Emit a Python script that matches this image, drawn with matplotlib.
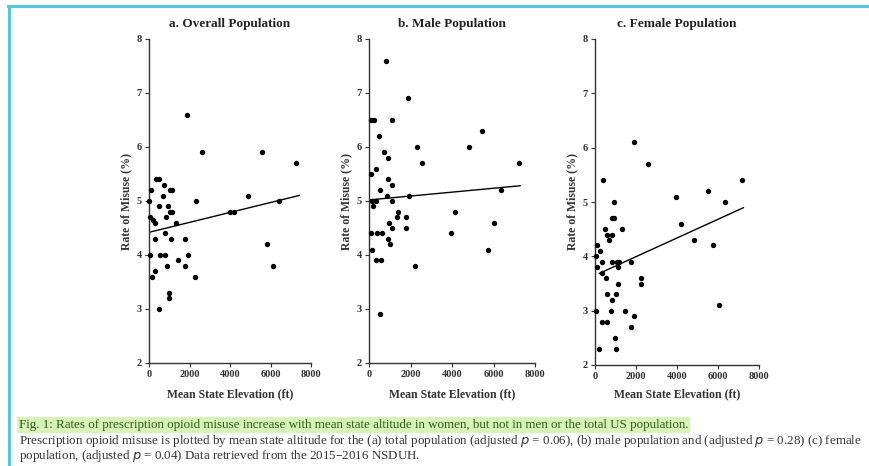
import matplotlib
matplotlib.use("Agg")
import matplotlib.pyplot as plt
from matplotlib.lines import Line2D
import numpy as np

# ---------------- data ----------------
titles = ["a. Overall Population", "b. Male Population", "c. Female Population"]
x_ticks = [0, 2000, 4000, 6000, 8000]
y_ticks = [2, 3, 4, 5, 6, 7, 8]

overall_elev = [1884, 2595, 5570, 7270, 364, 500, 115, 744, 690, 1025, 1157, 0, 2300, 4875,
                6430, 500, 942, 1025, 1157, 860, 30, 200, 280, 1355, 4000, 4215, 777, 280,
                1107, 1770, 5818, 30, 530, 777, 1934, 1438, 909, 1770, 6100, 280, 150, 2265,
                975, 990, 500]
overall_rate = [6.6, 5.9, 5.9, 5.7, 5.4, 5.4, 5.2, 5.3, 5.1, 5.2, 5.2, 5.0, 5.0, 5.1,
                5.0, 4.9, 4.9, 4.8, 4.8, 4.7, 4.7, 4.65, 4.6, 4.6, 4.8, 4.8, 4.4, 4.3,
                4.3, 4.3, 4.2, 4.0, 4.0, 4.0, 4.0, 3.9, 3.8, 3.8, 3.8, 3.7, 3.6, 3.6,
                3.3, 3.2, 3.0]

male_elev = [819, 1896, 96, 257, 1124, 5462, 498, 2297, 4819, 739, 900, 337, 2570, 7213,
             80, 900, 1124, 530, 6361, 851, 1928, 128, 337, 1124, 209, 1414, 4145, 1333,
             1783, 980, 6024, 1092, 1783, 80, 370, 610, 3936, 932, 1012, 128, 5719, 337,
             562, 2217, 530]
male_rate = [7.6, 6.9, 6.5, 6.5, 6.5, 6.3, 6.2, 6.0, 6.0, 5.9, 5.8, 5.6, 5.7, 5.7,
             5.5, 5.4, 5.3, 5.2, 5.2, 5.1, 5.1, 5.0, 5.0, 5.0, 4.9, 4.8, 4.8, 4.7,
             4.7, 4.6, 4.6, 4.5, 4.5, 4.4, 4.4, 4.4, 4.4, 4.3, 4.2, 4.1, 4.1, 3.9,
             3.9, 3.8, 2.9]

female_elev = [1902, 2569, 374, 7154, 5496, 3951, 943, 6341, 813, 926, 4179, 488, 1333, 569,
               846, 699, 4846, 114, 244, 5740, 33, 325, 813, 1057, 1187, 1756, 114, 1138,
               325, 537, 2244, 2228, 1138, 569, 1024, 846, 33, 780, 1463, 1902, 6049, 325,
               569, 1740, 976, 195, 1024]
female_rate = [6.1, 5.7, 5.4, 5.4, 5.2, 5.1, 5.0, 5.0, 4.7, 4.7, 4.6, 4.5, 4.5, 4.4,
               4.4, 4.3, 4.3, 4.2, 4.1, 4.2, 4.0, 3.9, 3.9, 3.9, 3.9, 3.9, 3.8, 3.8,
               3.7, 3.6, 3.6, 3.5, 3.5, 3.3, 3.3, 3.2, 3.0, 3.0, 3.0, 2.9, 3.1, 2.8,
               2.8, 2.7, 2.5, 2.3, 2.3]

# regression lines: (intercept %, slope %/ft, x start, x end)
fit_intercept = [4.42, 5.02, 3.65]
fit_slope = [9.2e-5, 3.6e-5, 1.72e-4]
fit_xrange = [(0, 7420), (0, 7280), (210, 7240)]

caption_title = ("Fig. 1: Rates of prescription opioid misuse increase with mean state altitude "
                 "in women, but not in men or the total US population.")
caption_line2 = ("Prescription opioid misuse is plotted by mean state altitude for the (a) total "
                 "population (adjusted $p$ = 0.06), (b) male population and (adjusted $p$ = 0.28) "
                 "(c) female")
caption_line3 = "population, (adjusted $p$ = 0.04) Data retrieved from the 2015\u20132016 NSDUH."

# ---------------- figure ----------------
W, H = 869, 466
fig = plt.figure(figsize=(W / 100, H / 100), dpi=100)
fig.patch.set_facecolor("white")

serif = ["Liberation Serif", "DejaVu Serif"]

# axes rectangles in pixels: left, right, top, bottom
rects = [(149, 311, 39, 363), (369, 535, 39, 363), (595, 759, 39, 365)]
xs = [overall_elev, male_elev, female_elev]
ys = [overall_rate, male_rate, female_rate]

for i in range(3):
    l, r, t, b = rects[i]
    ax = fig.add_axes([l / W, 1 - b / H, (r - l) / W, (b - t) / H])
    ax.scatter(xs[i], ys[i], s=15, color="black", clip_on=False, zorder=3, linewidths=0)
    x0, x1 = fit_xrange[i]
    xx = np.array([x0, x1])
    ax.plot(xx, fit_intercept[i] + fit_slope[i] * xx, color="black", lw=1.0, zorder=2)
    ax.set_xlim(0, 8000)
    ax.set_ylim(2, 8)
    ax.set_xticks(x_ticks)
    ax.set_yticks(y_ticks)
    ax.spines["top"].set_visible(False)
    ax.spines["right"].set_visible(False)
    for s in ("left", "bottom"):
        ax.spines[s].set_linewidth(1.0)
        ax.spines[s].set_color("#333333")
    ax.tick_params(axis="both", length=3, width=0.8, colors="#333333", pad=2)
    for lab in ax.get_xticklabels() + ax.get_yticklabels():
        lab.set_fontfamily(serif)
        lab.set_fontweight("bold")
        lab.set_fontsize(7.5)
        lab.set_color("#333333")
    ax.set_title(titles[i], fontfamily=serif, fontweight="bold", fontsize=9.5, pad=9, color="#222222")
    ax.set_xlabel("Mean State Elevation (ft)", fontfamily=serif, fontweight="bold", fontsize=8.5,
                  labelpad=7 if i < 2 else 5.5, color="#333333")
    ax.set_ylabel("Rate of Misuse (%)", fontfamily=serif, fontweight="bold", fontsize=8.5,
                  labelpad=3, color="#333333")
    ax.patch.set_alpha(0)

# cyan frame (top and left)
fig.add_artist(Line2D([9 / W, 9 / W], [0, 1 - 6 / H], color="#56c6e2", lw=2.2, transform=fig.transFigure))
fig.add_artist(Line2D([8 / W, 1], [1 - 6 / H, 1 - 6 / H], color="#56c6e2", lw=2.2, transform=fig.transFigure))

# caption
cap_size = 9.4
fig.text(19 / W, 1 - 425 / H, caption_title, fontfamily=serif, fontsize=cap_size, color="#2f5a12",
         va="center", ha="left",
         bbox=dict(boxstyle="square,pad=0.12", facecolor="#d6f3b8", edgecolor="none"))
fig.text(19 / W, 1 - 441 / H, caption_line2, fontfamily=serif, fontsize=cap_size, color="#333333",
         va="center", ha="left")
fig.text(19 / W, 1 - 456 / H, caption_line3, fontfamily=serif, fontsize=cap_size, color="#333333",
         va="center", ha="left")

fig.savefig("out.png", dpi=100, facecolor="white")
